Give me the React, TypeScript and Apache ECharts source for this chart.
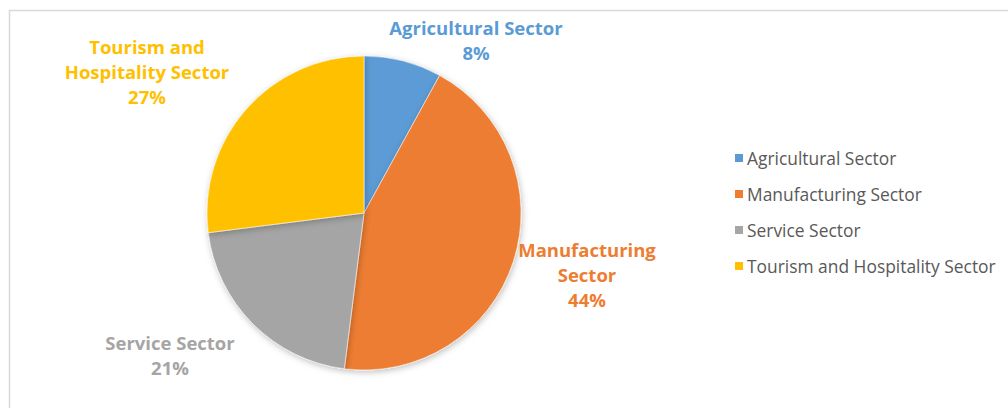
import React, { useEffect, useRef } from "react";
import * as echarts from "echarts";

const categories = ["Agricultural Sector", "Manufacturing Sector", "Service Sector", "Tourism and Hospitality Sector"];
const labelNames = ["Agricultural Sector", "Manufacturing\nSector", "Service Sector", "Tourism and\nHospitality Sector"];
const values = [8, 44, 21, 27];
const colors = ["#5B9BD5", "#ED7D31", "#A5A5A5", "#FFC000"];
const labelPos = [
  [476, 40],
  [587, 274],
  [170, 355],
  [147, 71],
];

export default function App() {
  const ref = useRef<HTMLDivElement>(null);
  useEffect(() => {
    document.body.style.margin = "0";
    const chart = echarts.init(ref.current!, null, { renderer: "svg" });
    chart.setOption({
      animation: false,
      backgroundColor: "#ffffff",
      graphic: [
        {
          type: "rect",
          shape: { x: 9.5, y: 10.5, width: 1010, height: 420 },
          style: { fill: "none", stroke: "#d9d9d9", lineWidth: 1.5 },
          silent: true,
        },
      ],
      legend: {
        orient: "vertical",
        left: 728,
        top: 144,
        itemWidth: 10,
        itemHeight: 10,
        itemGap: 18,
        icon: "rect",
        data: categories,
        textStyle: { fontFamily: "Open Sans", fontSize: 17.4, color: "#595959", lineHeight: 18, padding: [0, 0, 0, -2] },
      },
      series: [
        {
          type: "pie",
          center: [364, 213],
          radius: 157,
          startAngle: 90,
          clockwise: true,
          percentPrecision: 0,
          data: categories.map((c, i) => ({
            name: c,
            value: values[i],
            itemStyle: { color: colors[i] },
            label: { color: colors[i] },
          })),
          itemStyle: {
            borderColor: "#ffffff",
            borderWidth: 0.5,
            shadowBlur: 6,
            shadowColor: "rgba(0,0,0,0.25)",
            shadowOffsetX: 1,
            shadowOffsetY: 2,
          },
          label: {
            show: true,
            position: "outside",
            formatter: (p: any) => `${labelNames[p.dataIndex]}\n${p.percent}%`,
            fontFamily: "Open Sans",
            fontWeight: "bold",
            fontSize: 18.5,
            lineHeight: 25,
            align: "center",
          },
          labelLine: { show: false },
          labelLayout: (p: any) => ({
            x: labelPos[p.dataIndex][0],
            y: labelPos[p.dataIndex][1],
            align: "center",
            verticalAlign: "middle",
          }),
        },
      ],
    });
    return () => chart.dispose();
  }, []);
  return <div ref={ref} style={{ width: 1008, height: 408 }} />;
}
